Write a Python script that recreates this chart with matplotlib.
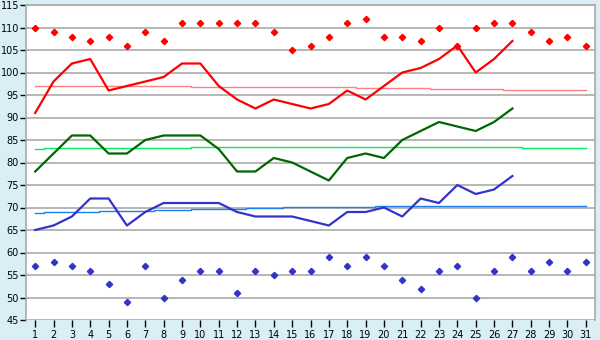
import matplotlib
matplotlib.use("Agg")
import matplotlib.pyplot as plt

days = list(range(1, 32))
obs_days = list(range(1, 28))

high = [91, 98, 102, 103, 96, 97, 98, 99, 102, 102, 97, 94, 92, 94, 93, 92, 93, 96, 94, 97,
        100, 101, 103, 106, 100, 103, 107]
mean = [78, 82, 86, 86, 82, 82, 85, 86, 86, 86, 83, 78, 78, 81, 80, 78, 76, 81, 82, 81,
        85, 87, 89, 88, 87, 89, 92]
low = [65, 66, 68, 72, 72, 66, 69, 71, 71, 71, 71, 69, 68, 68, 68, 67, 66, 69, 69, 70,
       68, 72, 71, 75, 73, 74, 77]

rec_high = [110, 109, 108, 107, 108, 106, 109, 107, 111, 111, 111, 111, 111, 109, 105, 106,
            108, 111, 112, 108, 108, 107, 110, 106, 110, 111, 111, 109, 107, 108, 106]
rec_low = [57, 58, 57, 56, 53, 49, 57, 50, 54, 56, 56, 51, 56, 55, 56, 56, 59, 57, 59, 57,
           54, 52, 56, 57, 50, 56, 59, 56, 58, 56, 58]

norm_high = [97.0, 97.0, 97.0, 97.0, 97.0, 97.0, 97.0, 97.0, 97.0, 96.78, 96.78, 96.78, 96.78,
             96.78, 96.78, 96.78, 96.78, 96.78, 96.55, 96.55, 96.55, 96.55, 96.33, 96.33,
             96.33, 96.33, 96.1, 96.1, 96.1, 96.1, 96.1]
norm_mean = [82.9, 83.2, 83.2, 83.2, 83.2, 83.2, 83.2, 83.2, 83.2, 83.45, 83.45, 83.45, 83.45,
             83.45, 83.45, 83.45, 83.45, 83.45, 83.45, 83.45, 83.45, 83.45, 83.45, 83.45,
             83.45, 83.45, 83.45, 83.15, 83.15, 83.15, 83.15]
norm_low = [68.7, 68.9, 68.9, 69.1, 69.3, 69.3, 69.3, 69.5, 69.5, 69.7, 69.7, 69.7, 69.9, 69.9,
            70.2, 70.2, 70.2, 70.2, 70.2, 70.4, 70.4, 70.4, 70.4, 70.4, 70.4, 70.4, 70.4,
            70.4, 70.3, 70.3, 70.3]

y_ticks = list(range(45, 116, 5))

bg = "#D9EEF5"
fig = plt.figure(figsize=(6, 3.4), dpi=100, facecolor=bg)
ax = fig.add_axes([26 / 600, 20 / 340, 569 / 600, 315 / 340])
ax.set_facecolor("white")

ax.set_xlim(0.5, 31.5)
ax.set_ylim(45, 115)
ax.set_yticks(y_ticks)
ax.set_xticks(days)
ax.yaxis.grid(True, color="#AAAAAA", linewidth=1.2)
ax.set_axisbelow(True)

ax.plot(days, norm_high, drawstyle="steps-mid", color="#FF7F7F", linewidth=1.0)
ax.plot(days, norm_mean, drawstyle="steps-mid", color="#00EE66", linewidth=1.0)
ax.plot(days, norm_low, drawstyle="steps-mid", color="#1E7FEE", linewidth=1.0)

ax.plot(obs_days, high, color="#FF0000", linewidth=1.6)
ax.plot(obs_days, mean, color="#006600", linewidth=1.6)
ax.plot(obs_days, low, color="#3333CC", linewidth=1.6)

ax.plot(days, rec_high, linestyle="none", marker="D", markersize=3.2, color="#FF0000")
ax.plot(days, rec_low, linestyle="none", marker="D", markersize=3.2, color="#3333CC")

for s in ["top", "right", "left"]:
    ax.spines[s].set_color("#AAAAAA")
    ax.spines[s].set_linewidth(1.2)
ax.spines["bottom"].set_visible(False)

ax.tick_params(axis="y", length=4, width=1, color="black", labelsize=7, pad=1)
ax.tick_params(axis="x", length=5, width=1, color="black", labelsize=7, pad=2)

fig.savefig("out.png", dpi=100, facecolor=bg)
